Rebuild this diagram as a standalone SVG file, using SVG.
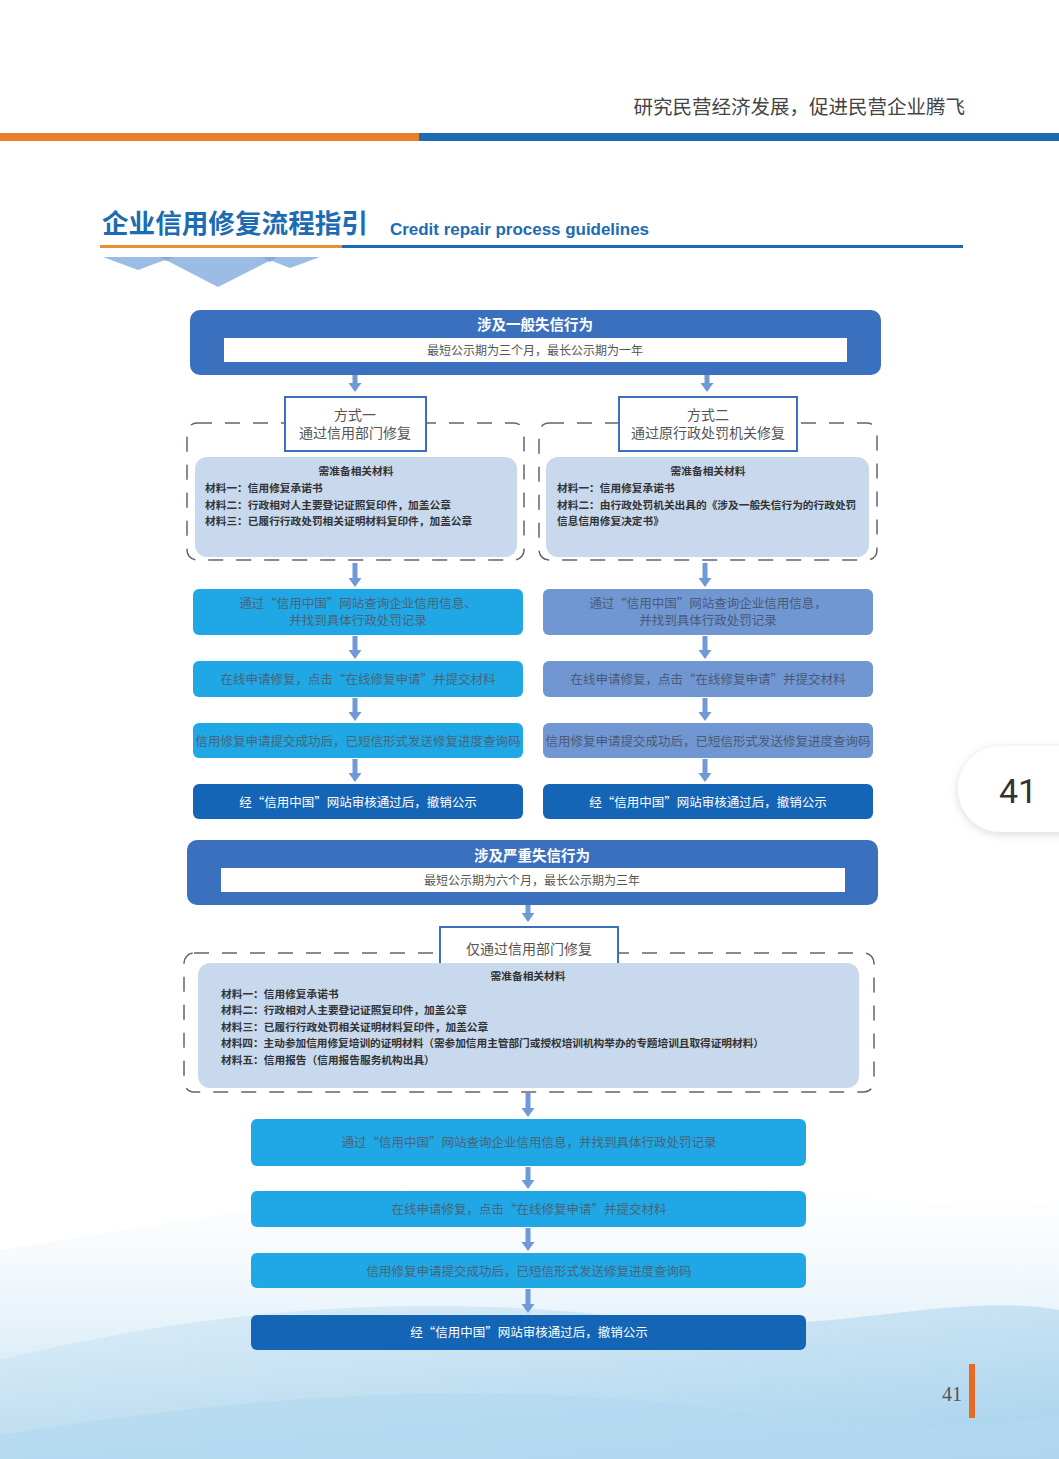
<svg xmlns="http://www.w3.org/2000/svg" width="1059" height="1459" viewBox="0 0 1059 1459">
<defs>
<style>
.cjk{font-family:"Noto Sans CJK SC","Noto Sans",sans-serif;}
.hdr{fill:#3A70BD;}
.sub{fill:#fff;}
.ht{font-size:14.5px;font-weight:bold;fill:#fff;text-anchor:middle;}
.st{font-size:12px;fill:#555;text-anchor:middle;}
.mbox{fill:#fff;stroke:#3A70BD;stroke-width:2;}
.mt{font-size:14px;fill:#555;text-anchor:middle;}
.dash{fill:none;stroke:#5d6670;stroke-width:1.5;stroke-dasharray:15 13;}
.mat{fill:#C8D9EE;}
.mh{font-size:10.7px;font-weight:bold;fill:#333;text-anchor:middle;}
.mi{font-size:10.7px;font-weight:bold;fill:#333;}
.cy{fill:#1FA8E5;}
.pw{fill:#7097D2;}
.dk{fill:#1565B7;}
.tc{font-size:12.5px;fill:#4a6478;text-anchor:middle;}
.tp{font-size:12.5px;fill:#4a5a78;text-anchor:middle;}
.tw{font-size:12.5px;fill:#fff;text-anchor:middle;}
.arr{fill:#6F9AD6;}
</style>
<linearGradient id="bg1" x1="0" y1="0" x2="0" y2="1">
<stop offset="0" stop-color="#e8f3fa" stop-opacity="0"/>
<stop offset="1" stop-color="#b9dcf0"/>
</linearGradient>
<linearGradient id="bg2" x1="0" y1="0" x2="1" y2="1">
<stop offset="0" stop-color="#d7ebf7"/>
<stop offset="1" stop-color="#9fcdea"/>
</linearGradient>
<filter id="sh" x="-30%" y="-30%" width="160%" height="160%">
<feDropShadow dx="0" dy="2" stdDeviation="5" flood-color="#000" flood-opacity="0.15"/>
</filter>
</defs>

<rect width="1059" height="1459" fill="#fff"/>

<!-- background waves -->
<g id="background">
<path d="M0,1250 C200,1220 420,1170 680,1180 C850,1188 980,1220 1059,1200 L1059,1459 L0,1459 Z" fill="url(#bg1)"/>
<path d="M0,1360 C200,1310 420,1290 650,1320 C820,1340 950,1290 1059,1310 L1059,1459 L0,1459 Z" fill="url(#bg2)" opacity="0.75"/>
<path d="M0,1435 C250,1395 500,1375 760,1415 C900,1435 1000,1425 1059,1415 L1059,1459 L0,1459 Z" fill="#b4d9ef" opacity="0.7"/>
</g>

<!-- page header -->
<g id="page-header">
<text class="cjk" x="965" y="114" font-size="19.5" fill="#444" text-anchor="end">研究民营经济发展，促进民营企业腾飞</text>
<rect x="0" y="133" width="419" height="8" fill="#E8802A"/>
<rect x="419" y="133" width="640" height="8" fill="#1B6CB3"/>
</g>

<g id="title">
<text class="cjk" x="102" y="233" font-size="26.6" font-weight="bold" fill="#1B6CB3">企业信用修复流程指引</text>
<text x="390" y="235" font-family="Liberation Sans, Arial, sans-serif" font-size="16" font-weight="bold" fill="#1B6CB3" textLength="259" lengthAdjust="spacingAndGlyphs">Credit repair process guidelines</text>
<rect x="100" y="245" width="242" height="3" fill="#E8902F"/>
<rect x="342" y="245" width="621" height="3" fill="#1B6CB3"/>
<polygon points="103,257 173,257 138,270" fill="#9BBCE4"/>
<polygon points="160,257 277,257 218,287" fill="#9BBCE4"/>
<polygon points="262,257 320,257 290,268" fill="#9BBCE4"/>
<polygon points="160,257 173,257 166,261" fill="#86ABDB"/>
<polygon points="262,257 277,257 270,262" fill="#86ABDB"/>
</g>

<!-- connectors -->
<g id="connectors" class="arr">
<path d="M352.5,375 h5 v8 h4 l-6.5,9 l-6.5,-9 h4 z"/>
<path d="M704.5,375 h5 v8 h4 l-6.5,9 l-6.5,-9 h4 z"/>
<path d="M352.5,563 h5 v15 h4 l-6.5,9 l-6.5,-9 h4 z"/>
<path d="M702.5,563 h5 v15 h4 l-6.5,9 l-6.5,-9 h4 z"/>
<path d="M352.5,636 h5 v14 h4 l-6.5,9 l-6.5,-9 h4 z"/>
<path d="M702.5,636 h5 v14 h4 l-6.5,9 l-6.5,-9 h4 z"/>
<path d="M352.5,698 h5 v14 h4 l-6.5,9 l-6.5,-9 h4 z"/>
<path d="M702.5,698 h5 v14 h4 l-6.5,9 l-6.5,-9 h4 z"/>
<path d="M352.5,759 h5 v14 h4 l-6.5,9 l-6.5,-9 h4 z"/>
<path d="M702.5,759 h5 v14 h4 l-6.5,9 l-6.5,-9 h4 z"/>
<path d="M525.5,905 h5 v8 h4 l-6.5,9 l-6.5,-9 h4 z"/>
<path d="M525.5,1093 h5 v15 h4 l-6.5,9 l-6.5,-9 h4 z"/>
<path d="M525.5,1167 h5 v13 h4 l-6.5,9 l-6.5,-9 h4 z"/>
<path d="M525.5,1228 h5 v14 h4 l-6.5,9 l-6.5,-9 h4 z"/>
<path d="M525.5,1289 h5 v15 h4 l-6.5,9 l-6.5,-9 h4 z"/>
</g>

<!-- general dishonesty -->
<g id="general-header">
<rect class="hdr" x="190" y="310" width="691" height="65" rx="10"/>
<text class="cjk ht" x="535" y="330">涉及一般失信行为</text>
<rect class="sub" x="224" y="338" width="623" height="24"/>
<text class="cjk st" x="535" y="355">最短公示期为三个月，最长公示期为一年</text>
</g>

<g id="method1">
<rect class="dash" x="187" y="423" width="337" height="137" rx="10"/>
<rect class="mbox" x="285" y="397" width="141" height="54"/>
<text class="cjk mt" x="355" y="420">方式一</text>
<text class="cjk mt" x="355" y="438">通过信用部门修复</text>
<rect class="mat" x="195" y="457" width="322" height="100" rx="12"/>
<text class="cjk mh" x="356" y="475">需准备相关材料</text>
<text class="cjk mi" x="205" y="492">材料一：信用修复承诺书</text>
<text class="cjk mi" x="205" y="509">材料二：行政相对人主要登记证照复印件，加盖公章</text>
<text class="cjk mi" x="205" y="525">材料三：已履行行政处罚相关证明材料复印件，加盖公章</text>
</g>

<g id="method2">
<rect class="dash" x="539" y="423" width="338" height="137" rx="10"/>
<rect class="mbox" x="619" y="397" width="178" height="54"/>
<text class="cjk mt" x="708" y="420">方式二</text>
<text class="cjk mt" x="708" y="438">通过原行政处罚机关修复</text>
<rect class="mat" x="546" y="457" width="323" height="100" rx="12"/>
<text class="cjk mh" x="708" y="475">需准备相关材料</text>
<text class="cjk mi" x="557" y="492">材料一：信用修复承诺书</text>
<text class="cjk mi" x="557" y="509">材料二：由行政处罚机关出具的《涉及一般失信行为的行政处罚</text>
<text class="cjk mi" x="557" y="525">信息信用修复决定书》</text>
</g>

<g id="m1-step1">
<rect class="cy" x="193" y="589" width="330" height="46" rx="6"/>
<text class="cjk tc" x="358" y="608" font-size="12">通过“信用中国”网站查询企业信用信息、</text>
<text class="cjk tc" x="358" y="625" font-size="12">并找到具体行政处罚记录</text>
</g>
<g id="m1-step2">
<rect class="cy" x="193" y="661" width="330" height="36" rx="6"/>
<text class="cjk tc" x="358" y="684">在线申请修复，点击“在线修复申请”并提交材料</text>
</g>
<g id="m1-step3">
<rect class="cy" x="193" y="723" width="330" height="35" rx="6"/>
<text class="cjk tc" x="358" y="746" font-size="13">信用修复申请提交成功后，已短信形式发送修复进度查询码</text>
</g>
<g id="m1-step4">
<rect class="dk" x="193" y="784" width="330" height="35" rx="6"/>
<text class="cjk tw" x="358" y="807">经“信用中国”网站审核通过后，撤销公示</text>
</g>

<g id="m2-step1">
<rect class="pw" x="543" y="589" width="330" height="46" rx="6"/>
<text class="cjk tp" x="708" y="608" font-size="12">通过“信用中国”网站查询企业信用信息，</text>
<text class="cjk tp" x="708" y="625" font-size="12">并找到具体行政处罚记录</text>
</g>
<g id="m2-step2">
<rect class="pw" x="543" y="661" width="330" height="36" rx="6"/>
<text class="cjk tp" x="708" y="684">在线申请修复，点击“在线修复申请”并提交材料</text>
</g>
<g id="m2-step3">
<rect class="pw" x="543" y="723" width="330" height="35" rx="6"/>
<text class="cjk tp" x="708" y="746" font-size="13">信用修复申请提交成功后，已短信形式发送修复进度查询码</text>
</g>
<g id="m2-step4">
<rect class="dk" x="543" y="784" width="330" height="35" rx="6"/>
<text class="cjk tw" x="708" y="807">经“信用中国”网站审核通过后，撤销公示</text>
</g>

<!-- serious dishonesty -->
<g id="serious-header">
<rect class="hdr" x="187" y="840" width="691" height="65" rx="10"/>
<text class="cjk ht" x="532" y="861">涉及严重失信行为</text>
<rect class="sub" x="221" y="868" width="624" height="24"/>
<text class="cjk st" x="532" y="885">最短公示期为六个月，最长公示期为三年</text>
</g>

<g id="method3">
<rect class="dash" x="184" y="953" width="690" height="139" rx="10"/>
<rect class="mbox" x="440" y="927" width="178" height="40"/>
<text class="cjk mt" x="529" y="954">仅通过信用部门修复</text>
<rect class="mat" x="198" y="963" width="661" height="125" rx="12"/>
<text class="cjk mh" x="528" y="980">需准备相关材料</text>
<text class="cjk mi" x="221" y="998">材料一：信用修复承诺书</text>
<text class="cjk mi" x="221" y="1014">材料二：行政相对人主要登记证照复印件，加盖公章</text>
<text class="cjk mi" x="221" y="1031">材料三：已履行行政处罚相关证明材料复印件，加盖公章</text>
<text class="cjk mi" x="221" y="1047" textLength="543" lengthAdjust="spacing">材料四：主动参加信用修复培训的证明材料（需参加信用主管部门或授权培训机构举办的专题培训且取得证明材料）</text>
<text class="cjk mi" x="221" y="1064">材料五：信用报告（信用报告服务机构出具）</text>
</g>

<g id="m3-step1">
<rect class="cy" x="251" y="1119" width="555" height="47" rx="6"/>
<text class="cjk tc" x="529" y="1147">通过“信用中国”网站查询企业信用信息，并找到具体行政处罚记录</text>
</g>
<g id="m3-step2">
<rect class="cy" x="251" y="1191" width="555" height="36" rx="6"/>
<text class="cjk tc" x="529" y="1214">在线申请修复，点击“在线修复申请”并提交材料</text>
</g>
<g id="m3-step3">
<rect class="cy" x="251" y="1253" width="555" height="35" rx="6"/>
<text class="cjk tc" x="529" y="1276">信用修复申请提交成功后，已短信形式发送修复进度查询码</text>
</g>
<g id="m3-step4">
<rect class="dk" x="251" y="1315" width="555" height="35" rx="6"/>
<text class="cjk tw" x="529" y="1337">经“信用中国”网站审核通过后，撤销公示</text>
</g>

<!-- page tab -->
<g id="page-tab">
<rect x="958" y="746" width="150" height="86" rx="43" fill="#fff" filter="url(#sh)"/>
<text x="1018" y="803" font-family="Roboto, 'Liberation Sans', sans-serif" font-size="34" fill="#333" text-anchor="middle">41</text>
</g>

<g id="page-number">
<text x="962" y="1401" font-family="'Liberation Serif', serif" font-size="20" fill="#555" text-anchor="end">41</text>
<rect x="969" y="1364" width="6" height="54" fill="#E46A26"/>
</g>
</svg>
